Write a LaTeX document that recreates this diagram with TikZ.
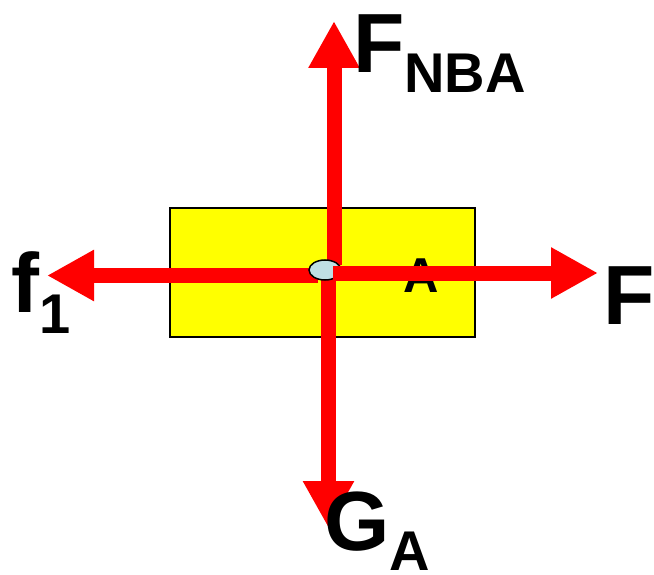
\documentclass[tikz,border=0pt]{standalone}
\usepackage{fontspec}
\setmainfont{Liberation Sans}
\usetikzlibrary{arrows.meta,shapes.geometric}
\definecolor{pinblue}{RGB}{191,223,228}
\definecolor{boxyellow}{RGB}{255,255,0}
\definecolor{forcered}{RGB}{255,0,0}

\begin{document}
\begin{tikzpicture}[x=1pt,y=-1pt,force/.style={line width=15pt,forcered,-{Triangle[width=48pt,length=47pt]}},sym/.style={inner sep=0,anchor=base west,font=\bfseries\fontsize{84}{84}\selectfont},sub/.style={font=\bfseries\fontsize{56}{56}\selectfont}]
\useasboundingbox (0,0) rectangle (654,575);
\node[draw=black,line width=2pt,fill=boxyellow,minimum width=305pt,minimum height=129pt,inner sep=0] (box) at (322.5,272.5) {};
\coordinate (o) at (325,270);
\coordinate (tN) at (334,21);\coordinate (tS) at (328.5,528);\coordinate (tW) at (47,275.5);\coordinate (tE) at (598,273);
\draw[force] ([shift={(9,-5)}]o)--(tN);\draw[force] ([shift={(3.5,5)}]o)--(tS);\draw[force] ([shift={(-7,5.5)}]o)--(tW);
\node[ellipse,draw=black,line width=1.5pt,fill=pinblue,minimum width=32pt,minimum height=20pt,inner sep=0] (pin) at (o) {};
\node[sym,font=\bfseries\fontsize{49}{49}\selectfont] (a) at (403,292) {A};
\draw[force] ([shift={(8,3)}]o)--(tE);
\node[sym] (fnba) at (353,73) {F\raisebox{-20pt}{\fontsize{56}{56}\selectfont NBA}};
\node[sym] (f1) at (11,312) {f\raisebox{-21pt}{\fontsize{56}{56}\selectfont 1}};
\node[sym] (f) at (603,324) {F};
\node[sym] (ga) at (324,550) {G\raisebox{-20pt}{\fontsize{56}{56}\selectfont A}};
\end{tikzpicture}
\end{document}
